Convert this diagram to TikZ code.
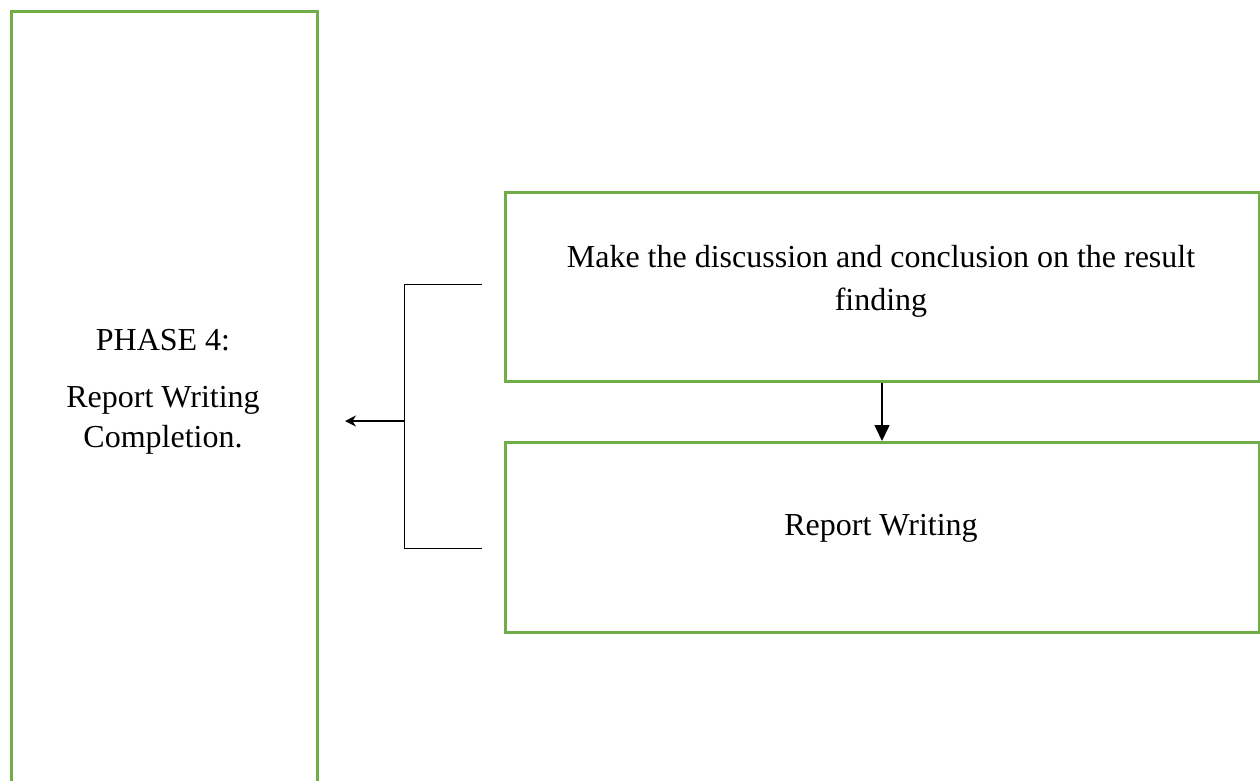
\documentclass[tikz,border=0pt]{standalone}
\usepackage{fontspec}
\setmainfont{Liberation Serif}
\usetikzlibrary{arrows.meta}
\definecolor{boxgreen}{RGB}{112,173,71}
\begin{document}
\begin{tikzpicture}[x=1pt,y=-1pt,
  box/.style={draw=boxgreen, line width=3pt, fill=white, inner sep=0pt, anchor=north west},
  txt/.style={font=\fontsize{32}{43}\selectfont, align=center, inner sep=0pt},
  conn/.style={draw=black, line width=1pt},
  downarrow/.style={draw=black, line width=1.5pt, -{Triangle[width=15pt,length=16pt]}},
  leftarrow/.style={draw=black, line width=1.5pt, -{Stealth[width=11pt,length=11pt]}}]
\useasboundingbox (0,0) rectangle (1260,780);
\clip (0,0) rectangle (1260,780);
\node[box, minimum width=306, minimum height=800] (phase) at (9.5,10) {};
\node[txt] (p1) at (163,340) {PHASE 4:};
\node[txt] (p2) at (163,400) {Report Writing};
\node[txt] (p3) at (163,440) {Completion.};
\node[box, minimum width=754, minimum height=189] (b1) at (503.5,191) {};
\node[box, minimum width=754, minimum height=190] (b2) at (503.5,441) {};
\node[txt] (t1) at (881,281) {Make the discussion and conclusion on the result\\finding};
\node[txt] (t2) at (881,528) {Report Writing};
\draw[downarrow] (b1.south) -- (b2.north);
\coordinate (bt) at (482,284);
\coordinate (bb) at (482,548);
\coordinate (bm) at (404,421);
\coordinate (tip) at (345,421);
\draw[conn] (bt) -- (bt -| bm) -- (bb -| bm) -- (bb);
\draw[leftarrow] (bm) -- (tip);
\end{tikzpicture}
\end{document}
